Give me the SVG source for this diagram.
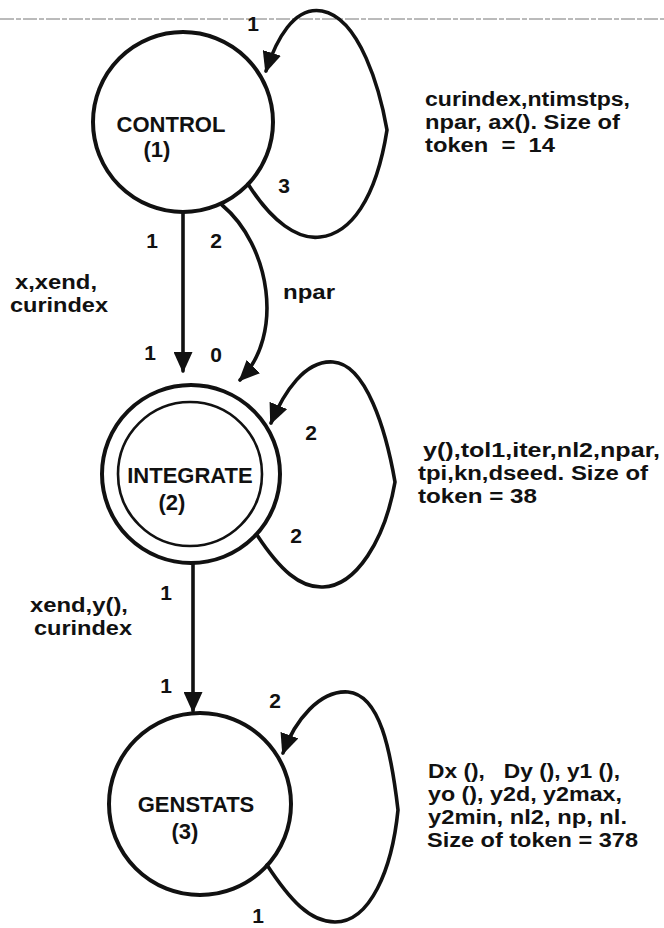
<svg xmlns="http://www.w3.org/2000/svg" width="664" height="928" viewBox="0 0 664 928">
  <style>
    .node { fill: none; stroke: #111; stroke-width: 4; }
    .inner { fill: none; stroke: #111; stroke-width: 2.6; }
    .edge { fill: none; stroke: #111; stroke-width: 3.6; stroke-linecap: round; marker-end: url(#arrow); }
    .loop { fill: none; stroke: #111; stroke-width: 3.6; stroke-linecap: round; stroke-linejoin: round; marker-end: url(#arrow); }
    .name { font-family: "Liberation Sans", Arial, sans-serif; font-weight: bold; font-size: 22px; fill: #111; }
    .port { font-family: "Liberation Sans", Arial, sans-serif; font-weight: bold; font-size: 21px; fill: #111; }
    .note { font-family: "Liberation Sans", Arial, sans-serif; font-weight: bold; font-size: 20px; fill: #111; }
    .fold { stroke: #777; stroke-width: 1; stroke-dasharray: 14 2 5 2; }
  </style>
  <defs>
    <marker id="arrow" markerUnits="userSpaceOnUse" viewBox="0 0 21 19" refX="19" refY="9.5" markerWidth="21" markerHeight="19" orient="auto">
      <path d="M0,0 L21,9.5 L0,19 Z" fill="#111"/>
    </marker>
  </defs>

  <rect width="664" height="928" fill="#fff"/>

  <!-- fold line across the top of the sheet -->
  <line class="fold" x1="0" y1="19" x2="664" y2="19"/>

  <!-- nodes -->
  <g id="control">
    <circle class="node" cx="183" cy="122" r="90"/>
    <text class="name" x="171" y="132" text-anchor="middle">CONTROL</text>
    <text class="name" x="157" y="157" text-anchor="middle">(1)</text>
  </g>

  <g id="integrate">
    <circle class="node" cx="191" cy="474" r="89"/>
    <circle class="inner" cx="190" cy="474" r="72"/>
    <text class="name" x="190" y="483" text-anchor="middle">INTEGRATE</text>
    <text class="name" x="172" y="510" text-anchor="middle">(2)</text>
  </g>

  <g id="genstats">
    <circle class="node" cx="200" cy="804" r="91"/>
    <text class="name" x="196" y="812" text-anchor="middle">GENSTATS</text>
    <text class="name" x="185" y="839" text-anchor="middle">(3)</text>
  </g>

  <!-- connectors -->
  <g id="connectors">
    <!-- CONTROL self loop -->
    <path class="loop" d="M248,184 C272,222 298,240 320,237 C350,234 376,200 387,130 C380,90 360,18 322,11 C294,6 276,40 266,71"/>
    <!-- CONTROL to INTEGRATE -->
    <path class="edge" d="M183,213 L183,371"/>
    <path class="edge" d="M222,205 C270,245 285,335 240,380"/>
    <!-- INTEGRATE self loop -->
    <path class="loop" d="M257,535 C280,570 300,588 323,587 C356,586 385,540 395,482 C386,430 366,364 333,362 C305,360 284,392 271,423"/>
    <!-- INTEGRATE to GENSTATS -->
    <path class="edge" d="M193,564 L193,711"/>
    <!-- GENSTATS self loop -->
    <path class="loop" d="M267,865 C290,900 310,922 335,922 C370,922 392,870 398,810 C391,750 380,695 348,692 C320,690 295,720 283,753"/>
  </g>

  <!-- port numbers -->
  <g id="ports">
    <text class="port" x="253" y="31" text-anchor="middle">1</text>
    <text class="port" x="284" y="193" text-anchor="middle">3</text>
    <text class="port" x="152" y="248" text-anchor="middle">1</text>
    <text class="port" x="216" y="248" text-anchor="middle">2</text>
    <text class="port" x="150" y="360" text-anchor="middle">1</text>
    <text class="port" x="216" y="362" text-anchor="middle">0</text>
    <text class="port" x="311" y="440" text-anchor="middle">2</text>
    <text class="port" x="296" y="543" text-anchor="middle">2</text>
    <text class="port" x="166" y="600" text-anchor="middle">1</text>
    <text class="port" x="166" y="693" text-anchor="middle">1</text>
    <text class="port" x="275" y="708" text-anchor="middle">2</text>
    <text class="port" x="258" y="923" text-anchor="middle">1</text>
  </g>

  <!-- edge labels -->
  <g id="edge-labels">
    <text class="note" x="15" y="289" textLength="82" lengthAdjust="spacingAndGlyphs">x,xend,</text>
    <text class="note" x="10" y="312" textLength="98" lengthAdjust="spacingAndGlyphs">curindex</text>
    <text class="note" x="283" y="299" textLength="52" lengthAdjust="spacingAndGlyphs">npar</text>
    <text class="note" x="30" y="612" textLength="98" lengthAdjust="spacingAndGlyphs">xend,y(),</text>
    <text class="note" x="34" y="635" textLength="98" lengthAdjust="spacingAndGlyphs">curindex</text>
  </g>

  <!-- token descriptions -->
  <g id="token-notes">
    <text class="note" x="425" y="106" textLength="205" lengthAdjust="spacingAndGlyphs">curindex,ntimstps,</text>
    <text class="note" x="425" y="129" textLength="195" lengthAdjust="spacingAndGlyphs">npar, ax(). Size of</text>
    <text class="note" x="425" y="152" textLength="130" lengthAdjust="spacingAndGlyphs" xml:space="preserve">token  =  14</text>

    <text class="note" x="423" y="457" textLength="237" lengthAdjust="spacingAndGlyphs">y(),tol1,iter,nl2,npar,</text>
    <text class="note" x="418" y="480" textLength="230" lengthAdjust="spacingAndGlyphs">tpi,kn,dseed. Size of</text>
    <text class="note" x="418" y="503" textLength="119" lengthAdjust="spacingAndGlyphs">token = 38</text>

    <text class="note" x="428" y="778" textLength="192" lengthAdjust="spacingAndGlyphs" xml:space="preserve">Dx (),   Dy (), y1 (),</text>
    <text class="note" x="428" y="801" textLength="194" lengthAdjust="spacingAndGlyphs">yo (), y2d, y2max,</text>
    <text class="note" x="428" y="824" textLength="199" lengthAdjust="spacingAndGlyphs">y2min, nl2, np, nl.</text>
    <text class="note" x="427" y="847" textLength="211" lengthAdjust="spacingAndGlyphs">Size of token = 378</text>
  </g>
</svg>
